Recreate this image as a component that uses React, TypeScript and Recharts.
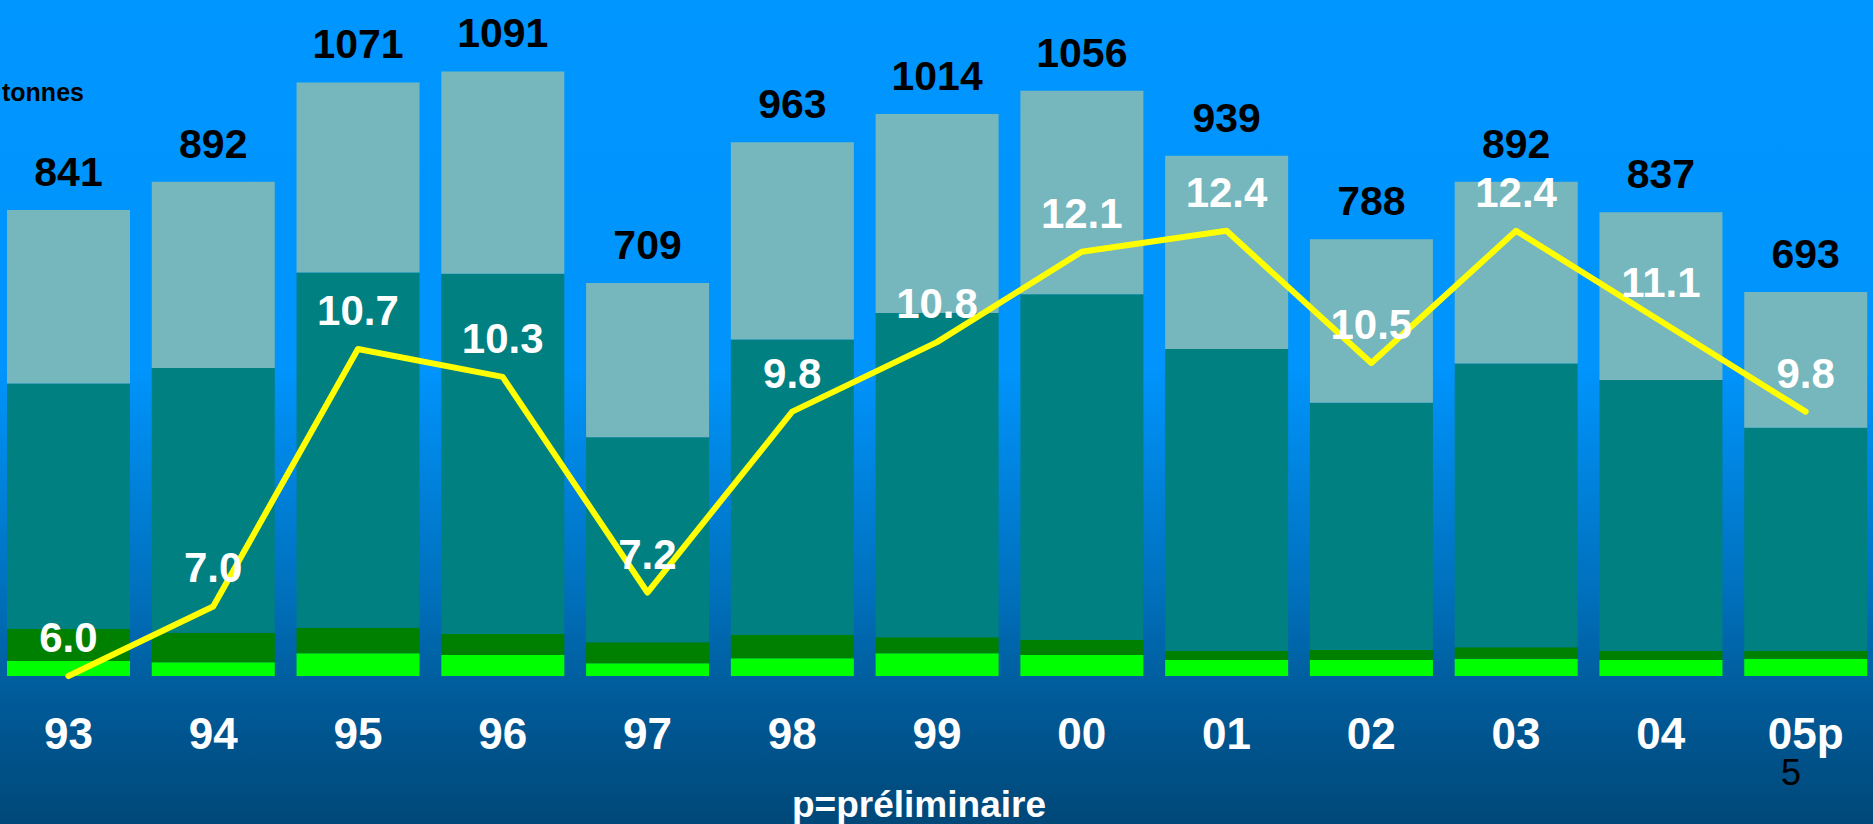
import React from 'react';
import { ComposedChart, Bar, Line, XAxis, YAxis, LabelList } from 'recharts';

const categories = ['93', '94', '95', '96', '97', '98', '99', '00', '01', '02', '03', '04', '05p'];
const brightGreen = [27, 25, 41, 38, 23, 32, 41, 38, 29, 29, 31, 29, 31];
const darkGreen = [58, 53, 46, 38, 38, 42, 29, 27, 16, 18, 21, 16, 14];
const teal = [443, 478, 641, 650, 370, 533, 585, 624, 545, 446, 512, 489, 403];
const lightTeal = [313, 336, 343, 365, 278, 356, 359, 367, 349, 295, 328, 303, 245];
const totals = [841, 892, 1071, 1091, 709, 963, 1014, 1056, 939, 788, 892, 837, 693];
const ratio = [6.0, 7.0, 10.7, 10.3, 7.2, 9.8, 10.8, 12.1, 12.4, 10.5, 12.4, 11.1, 9.8];

const data = categories.map((c, i) => ({
  cat: c,
  bright: brightGreen[i],
  dark: darkGreen[i],
  teal: teal[i],
  light: lightTeal[i],
  total: totals[i],
  ratio: ratio[i],
}));

const FONT = '"Liberation Sans", Arial, Helvetica, sans-serif';

const TotalLabel = (props: any) => {
  const { x, y, width, index } = props;
  return (
    <text x={x + width / 2} y={y - 24} textAnchor="middle" fill="#000" fontFamily={FONT} fontWeight="bold" fontSize={41}>
      {totals[index]}
    </text>
  );
};

const RatioLabel = (props: any) => {
  const { x, y, index } = props;
  return (
    <text x={x} y={y - 24} textAnchor="middle" fill="#fff" fontFamily={FONT} fontWeight="bold" fontSize={42}>
      {ratio[index].toFixed(1)}
    </text>
  );
};

const Tick = (props: any) => {
  const { x, y, payload } = props;
  return (
    <text x={x} y={y + 73} textAnchor="middle" fill="#fff" fontFamily={FONT} fontWeight="bold" fontSize={44}>
      {payload.value}
    </text>
  );
};

export default function App() {
  return (
    <div
      style={{
        position: 'absolute',
        left: 0,
        top: 0,
        width: 1873,
        height: 824,
        overflow: 'hidden',
        background: 'linear-gradient(to bottom, #0096ff 0%, #0094fc 45%, #0070bc 72%, #005a98 85%, #004878 100%)',
      }}
    >
      <div style={{ position: 'absolute', left: -4, top: 0 }}>
        <ComposedChart width={1882} height={824} data={data} margin={{ top: 11, right: 0, bottom: 0, left: 0 }}>
          <XAxis
            dataKey="cat"
            height={148}
            axisLine={false}
            tickLine={false}
            tickSize={0}
            tickMargin={0}
            interval={0}
            tick={<Tick />}
          />
          <YAxis yAxisId="left" hide domain={[0, 1200]} />
          <YAxis yAxisId="right" orientation="right" hide domain={[6, 15.56]} />
          <Bar yAxisId="left" dataKey="bright" stackId="a" fill="#00ff00" barSize={123} isAnimationActive={false} />
          <Bar yAxisId="left" dataKey="dark" stackId="a" fill="#008000" barSize={123} isAnimationActive={false} />
          <Bar yAxisId="left" dataKey="teal" stackId="a" fill="#008080" barSize={123} isAnimationActive={false} />
          <Bar yAxisId="left" dataKey="light" stackId="a" fill="#75b7bc" barSize={123} isAnimationActive={false}>
            <LabelList dataKey="total" content={<TotalLabel />} />
          </Bar>
          <Line
            yAxisId="right"
            type="linear"
            dataKey="ratio"
            stroke="#ffff00"
            strokeWidth={6}
            strokeLinecap="round"
            strokeLinejoin="round"
            dot={false}
            activeDot={false}
            isAnimationActive={false}
          >
            <LabelList dataKey="ratio" content={<RatioLabel />} />
          </Line>
        </ComposedChart>
      </div>
      <svg width={1873} height={824} style={{ position: 'absolute', left: 0, top: 0, pointerEvents: 'none' }}>
        <text x={2} y={101} fill="#000" fontFamily={FONT} fontWeight="bold" fontSize={25}>tonnes</text>
        <text x={919} y={817} textAnchor="middle" fill="#fff" fontFamily={FONT} fontWeight="bold" fontSize={37}>p=préliminaire</text>
        <text x={1791} y={785} textAnchor="middle" fill="#000" fontFamily={FONT} fontSize={36}>5</text>
      </svg>
    </div>
  );
}
